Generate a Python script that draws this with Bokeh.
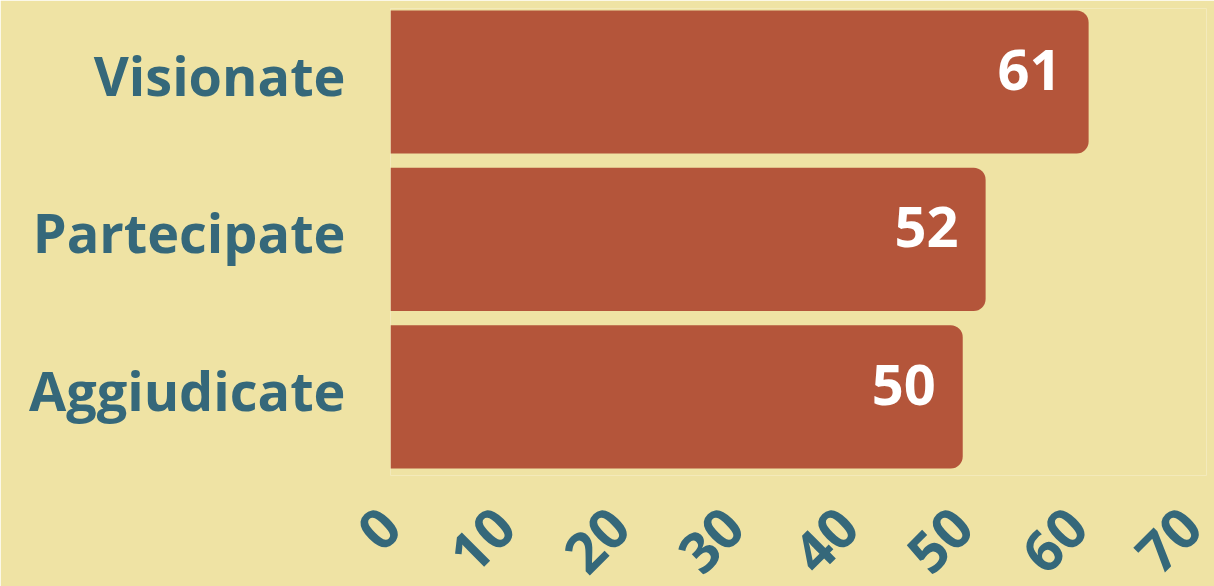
import math
from bokeh.plotting import figure
from bokeh.models import Range1d, FixedTicker, ColumnDataSource, LabelSet
from bokeh.core.properties import value
from bokeh.embed import file_html
from bokeh.resources import INLINE

categories = ["Visionate", "Partecipate", "Aggiudicate"]
values = [61, 52, 50]
x_ticks = [0, 10, 20, 30, 40, 50, 60, 70]

BG = "#EFE3A4"
BAR = "#B4553A"
TEAL = "#35687A"
FONT = "Open Sans"

n = len(categories)
ypos = [n - 1 - i for i in range(n)]
LABEL_SHIFT = 0.045  # category labels sit slightly above bar centres

src = ColumnDataSource(dict(y=ypos, v=values, lbl=[str(v) for v in values]))

p = figure(
    frame_width=816, frame_height=467,
    x_range=Range1d(0, 71.3), y_range=Range1d(-0.5, 2.467),
    output_backend="svg", toolbar_location=None,
    background_fill_color=BG, border_fill_color=BG,
    min_border_left=390, min_border_right=8, min_border_top=8, min_border_bottom=0,
    outline_line_color=None,
)
p.grid.visible = False

p.hbar(y="y", left=0, right="v", height=0.91, source=src,
       fill_color=BAR, line_color=None, border_radius=(0, 12, 12, 0))

labels = LabelSet(x="v", y="y", text="lbl", source=src, x_offset=-27, y_offset=12,
                  text_align="right", text_baseline="middle",
                  text_color="white", text_font=value(FONT), text_font_style="bold",
                  text_font_size="56px")
p.add_layout(labels)

yax = p.yaxis[0]
ytick_pos = [y + LABEL_SHIFT for y in ypos]
yax.ticker = FixedTicker(ticks=ytick_pos)
yax.major_label_overrides = {t: c for t, c in zip(ytick_pos, categories)}
yax.axis_line_color = None
yax.major_tick_line_color = None
yax.minor_tick_line_color = None
yax.major_tick_out = 0
yax.major_label_standoff = 45
yax.major_label_text_font = FONT
yax.major_label_text_font_style = "bold"
yax.major_label_text_font_size = "54px"
yax.major_label_text_color = TEAL

xax = p.xaxis[0]
xax.ticker = FixedTicker(ticks=x_ticks)
xax.axis_line_color = None
xax.major_tick_line_color = None
xax.minor_tick_line_color = None
xax.major_tick_out = 0
xax.major_label_standoff = 42
xax.major_label_orientation = math.pi / 4
xax.major_label_text_font = FONT
xax.major_label_text_font_style = "bold"
xax.major_label_text_font_size = "56px"
xax.major_label_text_color = TEAL

open("out.html", "w").write(file_html(p, INLINE))
